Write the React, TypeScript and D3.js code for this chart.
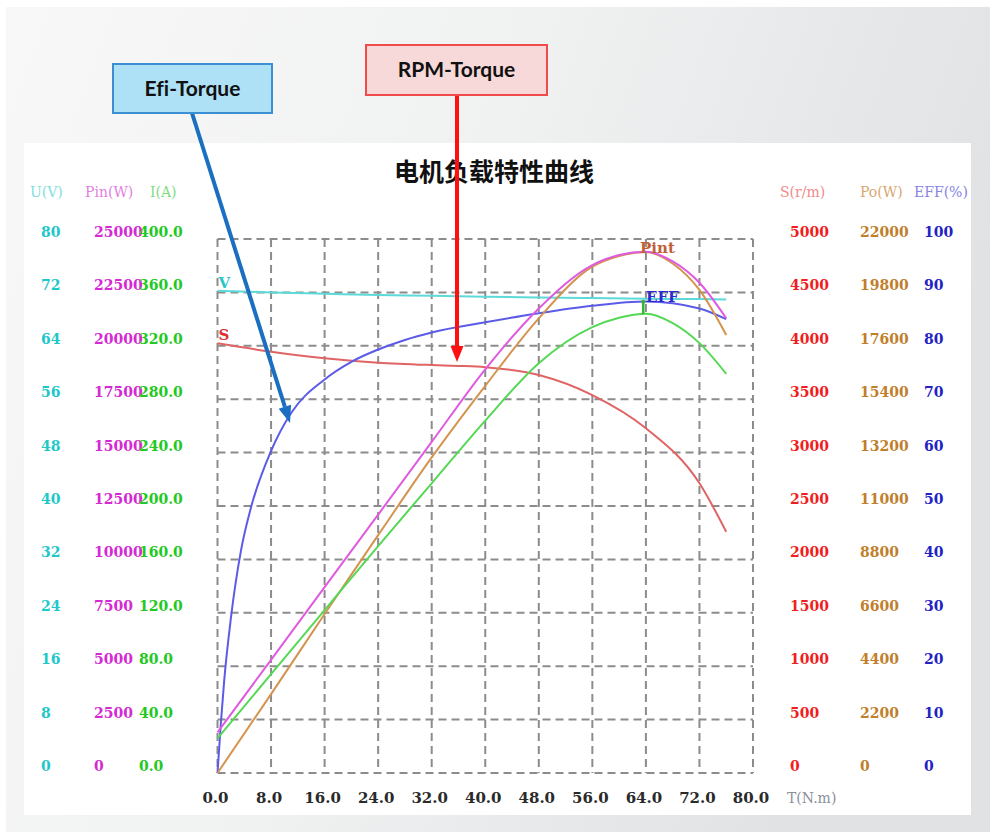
import React from 'react';
import * as d3 from 'd3';

// ---------- data ----------
const torqueTicks = [0, 8, 16, 24, 32, 40, 48, 56, 64, 72, 80];
const uTicks = [0, 8, 16, 24, 32, 40, 48, 56, 64, 72, 80];
const pinTicks = [0, 2500, 5000, 7500, 10000, 12500, 15000, 17500, 20000, 22500, 25000];
const iTicks = [0, 40, 80, 120, 160, 200, 240, 280, 320, 360, 400];
const sTicks = [0, 500, 1000, 1500, 2000, 2500, 3000, 3500, 4000, 4500, 5000];
const poTicks = [0, 2200, 4400, 6600, 8800, 11000, 13200, 15400, 17600, 19800, 22000];
const effTicks = [0, 10, 20, 30, 40, 50, 60, 70, 80, 90, 100];

const vTorque = [0, 8, 16, 24, 32, 40, 48, 56, 64, 72, 76];
const vValues = [72.25, 72.0, 71.8, 71.6, 71.5, 71.35, 71.25, 71.15, 71.05, 71.0, 70.95];

const sTorque = [0, 8, 16, 24, 32, 36, 40, 48, 56, 64, 72, 76];
const sValues = [4023, 3945, 3883, 3842, 3820, 3812, 3800, 3727, 3539, 3228, 2713, 2259];

const effTorque = [0, 0.5, 1, 2, 3.5, 5, 8, 11, 16, 20, 24, 28, 32, 40, 48, 56, 64, 72, 76];
const effValues = [0, 9.3, 17.3, 29.0, 41.6, 49.7, 60.3, 67.4, 73.7, 77.0, 79.3, 81.1, 82.5, 84.4, 86.1, 87.5, 88.3, 87.0, 85.0];

const pinTorque = [0, 8, 16, 24, 32, 40, 48, 56, 60, 64, 68, 72, 76];
const pinValues = [1900, 5300, 8700, 12100, 15500, 18900, 21750, 23780, 24250, 24400, 23950, 22950, 21290];

const poTorque = [0, 8, 16, 24, 32, 40, 48, 56, 60, 64, 68, 72, 76];
const poValues = [0, 3250, 6550, 9800, 13000, 15950, 18730, 20860, 21300, 21460, 20990, 19900, 18045];

const iTorque = [0, 8, 16, 24, 32, 40, 48, 56, 60, 64, 68, 72, 76];
const iValues = [26, 74, 122, 170, 217, 264, 307, 334, 341, 344, 337, 322, 299];

const effMarkTorque = 63.6;

const title = '电机负载特性曲线';

// ---------- layout ----------
const W = 995;
const H = 832;
const PL = 217.5, PR = 753, PT = 239, PB = 773;

const x = d3.scaleLinear().domain([0, 80]).range([PL, PR]);
const yU = d3.scaleLinear().domain([0, 80]).range([PB, PT]);
const yPin = d3.scaleLinear().domain([0, 25000]).range([PB, PT]);
const yI = d3.scaleLinear().domain([0, 400]).range([PB, PT]);
const yS = d3.scaleLinear().domain([0, 5000]).range([PB, PT]);
const yPo = d3.scaleLinear().domain([0, 22000]).range([PB, PT]);
const yEff = d3.scaleLinear().domain([0, 100]).range([PB, PT]);

const zip = (a: number[], b: number[]) => a.map((t, i) => [t, b[i]] as [number, number]);

function pathFor(ts: number[], vs: number[], y: d3.ScaleLinear<number, number>) {
  return d3
    .line<[number, number]>()
    .x((d) => x(d[0]))
    .y((d) => y(d[1]))
    .curve(d3.curveMonotoneX)(zip(ts, vs)) as string;
}

function interp(ts: number[], vs: number[], t: number) {
  const i = d3.bisectRight(ts, t) - 1;
  const j = Math.min(i + 1, ts.length - 1);
  if (i === j) return vs[i];
  const f = (t - ts[i]) / (ts[j] - ts[i]);
  return vs[i] + f * (vs[j] - vs[i]);
}

const numFont = '"DejaVu Serif", serif';

function Arrow({ x1, y1, x2, y2, color, w, hl, hw }: any) {
  const a = Math.atan2(y2 - y1, x2 - x1);
  const bx = x2 - hl * Math.cos(a);
  const by = y2 - hl * Math.sin(a);
  const px = -Math.sin(a) * hw / 2;
  const py = Math.cos(a) * hw / 2;
  return (
    <g>
      <line x1={x1} y1={y1} x2={bx} y2={by} stroke={color} strokeWidth={w} />
      <polygon points={`${x2},${y2} ${bx + px},${by + py} ${bx - px},${by - py}`} fill={color} />
    </g>
  );
}

export default function App() {
  const fmt1 = d3.format('.1f');
  const gridY = uTicks.map((v) => yU(v));
  const gridX = torqueTicks.map((t) => x(t));
  const markEff = interp(effTorque, effValues, effMarkTorque);
  const markI = interp(iTorque, iValues, effMarkTorque);

  const leftCols = [
    { ticks: uTicks, y: yU, x: 41, color: '#1fc8c8', f: (v: number) => String(v) },
    { ticks: pinTicks, y: yPin, x: 94, color: '#d42ad4', f: (v: number) => String(v) },
    { ticks: iTicks, y: yI, x: 139, color: '#22c922', f: (v: number) => fmt1(v) },
  ];
  const rightCols = [
    { ticks: sTicks, y: yS, x: 790, color: '#f01e1e', f: (v: number) => String(v) },
    { ticks: poTicks, y: yPo, x: 860, color: '#c07f2c', f: (v: number) => String(v) },
    { ticks: effTicks, y: yEff, x: 924, color: '#2323c4', f: (v: number) => String(v) },
  ];

  return (
    <svg
      width={W}
      height={H}
      viewBox={`0 0 ${W} ${H}`}
      style={{ position: 'absolute', left: 0, top: 0, display: 'block', background: '#ffffff' }}
    >
      <defs>
        <linearGradient id="bgGrad" x1="0" y1="0" x2="1" y2="0.3">
          <stop offset="0" stopColor="#f8f8f8" />
          <stop offset="0.5" stopColor="#f0f1f1" />
          <stop offset="1" stopColor="#e1e2e4" />
        </linearGradient>
      </defs>
      <rect x={6} y={7} width={984} height={825} fill="url(#bgGrad)" />
      <rect x={24} y={143} width={947} height={672} fill="#ffffff" />

      {/* grid */}
      <g stroke="#808080" strokeWidth={2} strokeDasharray="8 5" fill="none" opacity={0.9}>
        {gridY.map((gy, i) => (
          <line key={'h' + i} x1={PL} x2={PR} y1={gy} y2={gy} />
        ))}
        {gridX.map((gx, i) => (
          <line key={'v' + i} x1={gx} x2={gx} y1={PT} y2={PB} />
        ))}
      </g>

      {/* title */}
      <text x={494} y={181} textAnchor="middle" fontFamily='"Noto Sans CJK SC", sans-serif' fontWeight={700} fontSize={25} fill="#111">
        {title}
      </text>

      {/* headers */}
      <g fontFamily={numFont} fontSize={14}>
        <text x={30} y={197} fill="#7fdede">U(V)</text>
        <text x={85} y={197} fill="#e27fe2">Pin(W)</text>
        <text x={150} y={197} fill="#7fdc7f">I(A)</text>
        <text x={780} y={197} fill="#f28a8a">S(r/m)</text>
        <text x={860} y={197} fill="#d8a870">Po(W)</text>
        <text x={914} y={197} fill="#8585e2">EFF(%)</text>
      </g>

      {/* tick labels */}
      <g fontFamily={numFont} fontSize={14} fontWeight={700}>
        {[...leftCols, ...rightCols].map((c, ci) =>
          c.ticks.map((v, i) => (
            <text key={ci + '-' + i} x={c.x} y={c.y(v) - 7} dy="0.36em" fill={c.color}>
              {c.f(v)}
            </text>
          ))
        )}
        {torqueTicks.map((t, i) => (
          <text key={'x' + i} x={x(t) - 2} y={798} dy="0.36em" textAnchor="middle" fill="#2a2a2a" fontSize={15}>
            {fmt1(t)}
          </text>
        ))}
        <text x={787} y={798} dy="0.36em" fill="#8a8f9a" fontWeight={400} fontSize={14}>
          T(N.m)
        </text>
      </g>

      {/* curves */}
      <g fill="none" strokeWidth={2}>
        <path d={pathFor(vTorque, vValues, yU)} stroke="#5ed9d9" />
        <path d={pathFor(sTorque, sValues, yS)} stroke="#e06464" />
        <path d={pathFor(effTorque, effValues, yEff)} stroke="#5b5be8" />
        <path d={pathFor(poTorque, poValues, yPo)} stroke="#d4934e" />
        <path d={pathFor(pinTorque, pinValues, yPin)} stroke="#e05ae0" />
        <path d={pathFor(iTorque, iValues, yI)} stroke="#55d855" />
        <line x1={x(effMarkTorque)} x2={x(effMarkTorque)} y1={yEff(markEff)} y2={yI(markI)} stroke="#2fb82f" strokeWidth={2.5} />
        <circle cx={x(effMarkTorque)} cy={yEff(markEff)} r={2} fill="#2fb82f" stroke="none" />
      </g>

      {/* curve labels */}
      <g fontFamily={numFont} fontWeight={700} fontSize={15}>
        <text x={x(0) + 1} y={yU(vValues[0]) - 3} fill="#2bc6c6">V</text>
        <text x={x(0) + 1} y={yS(sValues[0]) - 3} fill="#dd3030">S</text>
        <text x={640} y={253} fill="#c0603a">Pint</text>
        <text x={646} y={302} fill="#2a2ad0">EFF</text>
      </g>

      {/* callouts */}
      <Arrow x1={192} y1={113} x2={290} y2={423} color="#1a6fc0" w={4} hl={17} hw={13} />
      <Arrow x1={457} y1={95} x2={457} y2={362} color="#ff1010" w={4} hl={16} hw={13} />

      <rect x={113} y={64} width={159} height={49} fill="#aee0f6" stroke="#3b8fd2" strokeWidth={2} />
      <text x={192.5} y={96} textAnchor="middle" fontFamily="Lato, sans-serif" fontWeight={700} fontSize={21} fill="#111" style={{ fontVariantLigatures: 'none' }}>
        Efi-Torque
      </text>
      <rect x={366} y={45} width={181} height={50} fill="#f8d9d9" stroke="#f04a4a" strokeWidth={2} />
      <text x={456.5} y={77} textAnchor="middle" fontFamily="Lato, sans-serif" fontWeight={700} fontSize={21} fill="#111" style={{ fontVariantLigatures: 'none' }}>
        RPM-Torque
      </text>
    </svg>
  );
}
